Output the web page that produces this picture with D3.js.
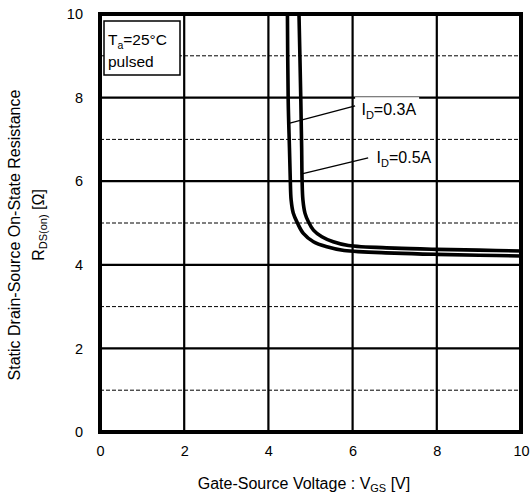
<!DOCTYPE html>
<html><head><meta charset="utf-8">
<script src="https://cdn.jsdelivr.net/npm/d3@7"></script>
<style>
html,body{margin:0;padding:0;background:#fff;}
svg{display:block;font-family:"Liberation Sans",Arial,sans-serif;}
</style></head>
<body>
<svg id="chart" width="531" height="498"></svg>
<script>
// ---- data ----
const xTicks = [0, 2, 4, 6, 8, 10];
const yTicks = [0, 2, 4, 6, 8, 10];
const yMinor = [1, 3, 5, 7, 9];
const seriesNames = ["0.3A", "0.5A"];
const vgs03 = [4.45, 4.47, 4.50, 4.52, 4.54, 4.59, 4.69, 4.83, 5.07, 5.39, 5.8, 7, 8, 9, 10];
const r03   = [10.3, 7.94, 6.8, 6.03, 5.55, 5.24, 5.0, 4.75, 4.55, 4.43, 4.34, 4.28, 4.25, 4.23, 4.21];
const vgs05 = [4.72, 4.77, 4.79, 4.80, 4.82, 4.87, 4.95, 5.07, 5.27, 5.54, 5.9, 7, 8, 9, 10];
const r05   = [10.3, 7.94, 6.8, 6.03, 5.55, 5.23, 5.03, 4.83, 4.67, 4.55, 4.46, 4.40, 4.37, 4.35, 4.33];
// annotation anchors (data units): [curve point V, R, label-end V, R, text V, R]
const labelAnchors = [
  [4.51, 7.39, 6.06, 7.80, 6.21, 7.58],
  [4.77, 6.17, 6.37, 6.56, 6.57, 6.43]
];

const svg = d3.select("#chart");
const L = 100, R = 521, T = 14, B = 432;
const x = d3.scaleLinear().domain([0, 10]).range([L, R]);
const y = d3.scaleLinear().domain([0, 10]).range([B, T]);

svg.append("clipPath").attr("id","clip").append("rect")
  .attr("x", L).attr("y", T).attr("width", R - L).attr("height", B - T);

// minor dashed grid
svg.append("g").selectAll("line").data(yMinor).join("line")
  .attr("x1", L).attr("x2", R).attr("y1", d => y(d)).attr("y2", d => y(d))
  .attr("stroke", "#000").attr("stroke-width", 1).attr("stroke-dasharray", "4,2");

// major grid
svg.append("g").selectAll("line").data(yTicks.slice(1, -1)).join("line")
  .attr("x1", L).attr("x2", R).attr("y1", d => y(d)).attr("y2", d => y(d))
  .attr("stroke", "#000").attr("stroke-width", 2.2);
svg.append("g").selectAll("line").data(xTicks.slice(1, -1)).join("line")
  .attr("y1", T).attr("y2", B).attr("x1", d => x(d)).attr("x2", d => x(d))
  .attr("stroke", "#000").attr("stroke-width", 2.2);

// curves
const line = d3.line().x(d => x(d[0])).y(d => y(d[1])).curve(d3.curveCatmullRom.alpha(0.5));
const curves = [d3.zip(vgs03, r03), d3.zip(vgs05, r05)];
svg.append("g").attr("clip-path", "url(#clip)").selectAll("path").data(curves).join("path")
  .attr("d", line).attr("fill", "none").attr("stroke", "#000").attr("stroke-width", 3.6);

// label backgrounds + leader lines + labels
const ann = svg.append("g");
ann.append("rect").attr("x", x(labelAnchors[0][2])).attr("y", y(labelAnchors[0][5]) - 18)
  .attr("width", 64).attr("height", 22).attr("fill", "#fff");
labelAnchors.forEach((a, i) => {
  ann.append("line").attr("x1", x(a[0])).attr("y1", y(a[1])).attr("x2", x(a[2])).attr("y2", y(a[3]))
    .attr("stroke", "#000").attr("stroke-width", 1.3);
  const t = ann.append("text").attr("x", x(a[4])).attr("y", y(a[5])).attr("font-size", 16);
  t.append("tspan").text("I");
  t.append("tspan").attr("font-size", 11).attr("dy", 4).text("D");
  t.append("tspan").attr("dy", -4).text("=" + seriesNames[i]);
});

// legend box
const lg = svg.append("g");
lg.append("rect").attr("x", 104).attr("y", 21).attr("width", 76).attr("height", 54)
  .attr("fill", "#fff").attr("stroke", "#000").attr("stroke-width", 1.5);
const t1 = lg.append("text").attr("x", 108).attr("y", 45).attr("font-size", 15.5);
t1.append("tspan").text("T");
t1.append("tspan").attr("font-size", 10.5).attr("dy", 4).text("a");
t1.append("tspan").attr("dy", -4).text("=25°C");
lg.append("text").attr("x", 108).attr("y", 67).attr("font-size", 15.5).text("pulsed");

// frame
svg.append("rect").attr("x", L).attr("y", T).attr("width", R - L).attr("height", B - T)
  .attr("fill", "none").attr("stroke", "#000").attr("stroke-width", 4);

// axes (labels only)
const xa = svg.append("g").attr("transform", `translate(0,${B + 14})`)
  .call(d3.axisBottom(x).tickValues(xTicks).tickSize(0).tickPadding(0).tickFormat(d3.format("d")));
xa.select(".domain").remove();
xa.selectAll("text").attr("font-size", 14.5).attr("fill", "#000").attr("font-family", "Liberation Sans, Arial, sans-serif");
const ya = svg.append("g").attr("transform", `translate(${L - 17},0)`)
  .call(d3.axisLeft(y).tickValues(yTicks).tickSize(0).tickPadding(0).tickFormat(d3.format("d")));
ya.select(".domain").remove();
ya.selectAll("text").attr("font-size", 14.5).attr("fill", "#000").attr("font-family", "Liberation Sans, Arial, sans-serif");

// axis titles
const xt = svg.append("text").attr("x", 304).attr("y", 489).attr("text-anchor", "middle").attr("font-size", 16);
xt.append("tspan").text("Gate-Source Voltage : V");
xt.append("tspan").attr("font-size", 11).attr("dy", 3).text("GS");
xt.append("tspan").attr("dy", -3).text(" [V]");

svg.append("text").attr("transform", "translate(20,235) rotate(-90)").attr("text-anchor", "middle")
  .attr("font-size", 16).text("Static Drain-Source On-State Resistance");
const yt2 = svg.append("text").attr("transform", "translate(44,225) rotate(-90)").attr("text-anchor", "middle").attr("font-size", 16);
yt2.append("tspan").text("R");
yt2.append("tspan").attr("font-size", 11).attr("dy", 3).text("DS(on)");
yt2.append("tspan").attr("dy", -3).text(" [Ω]");
</script>
</body></html>
